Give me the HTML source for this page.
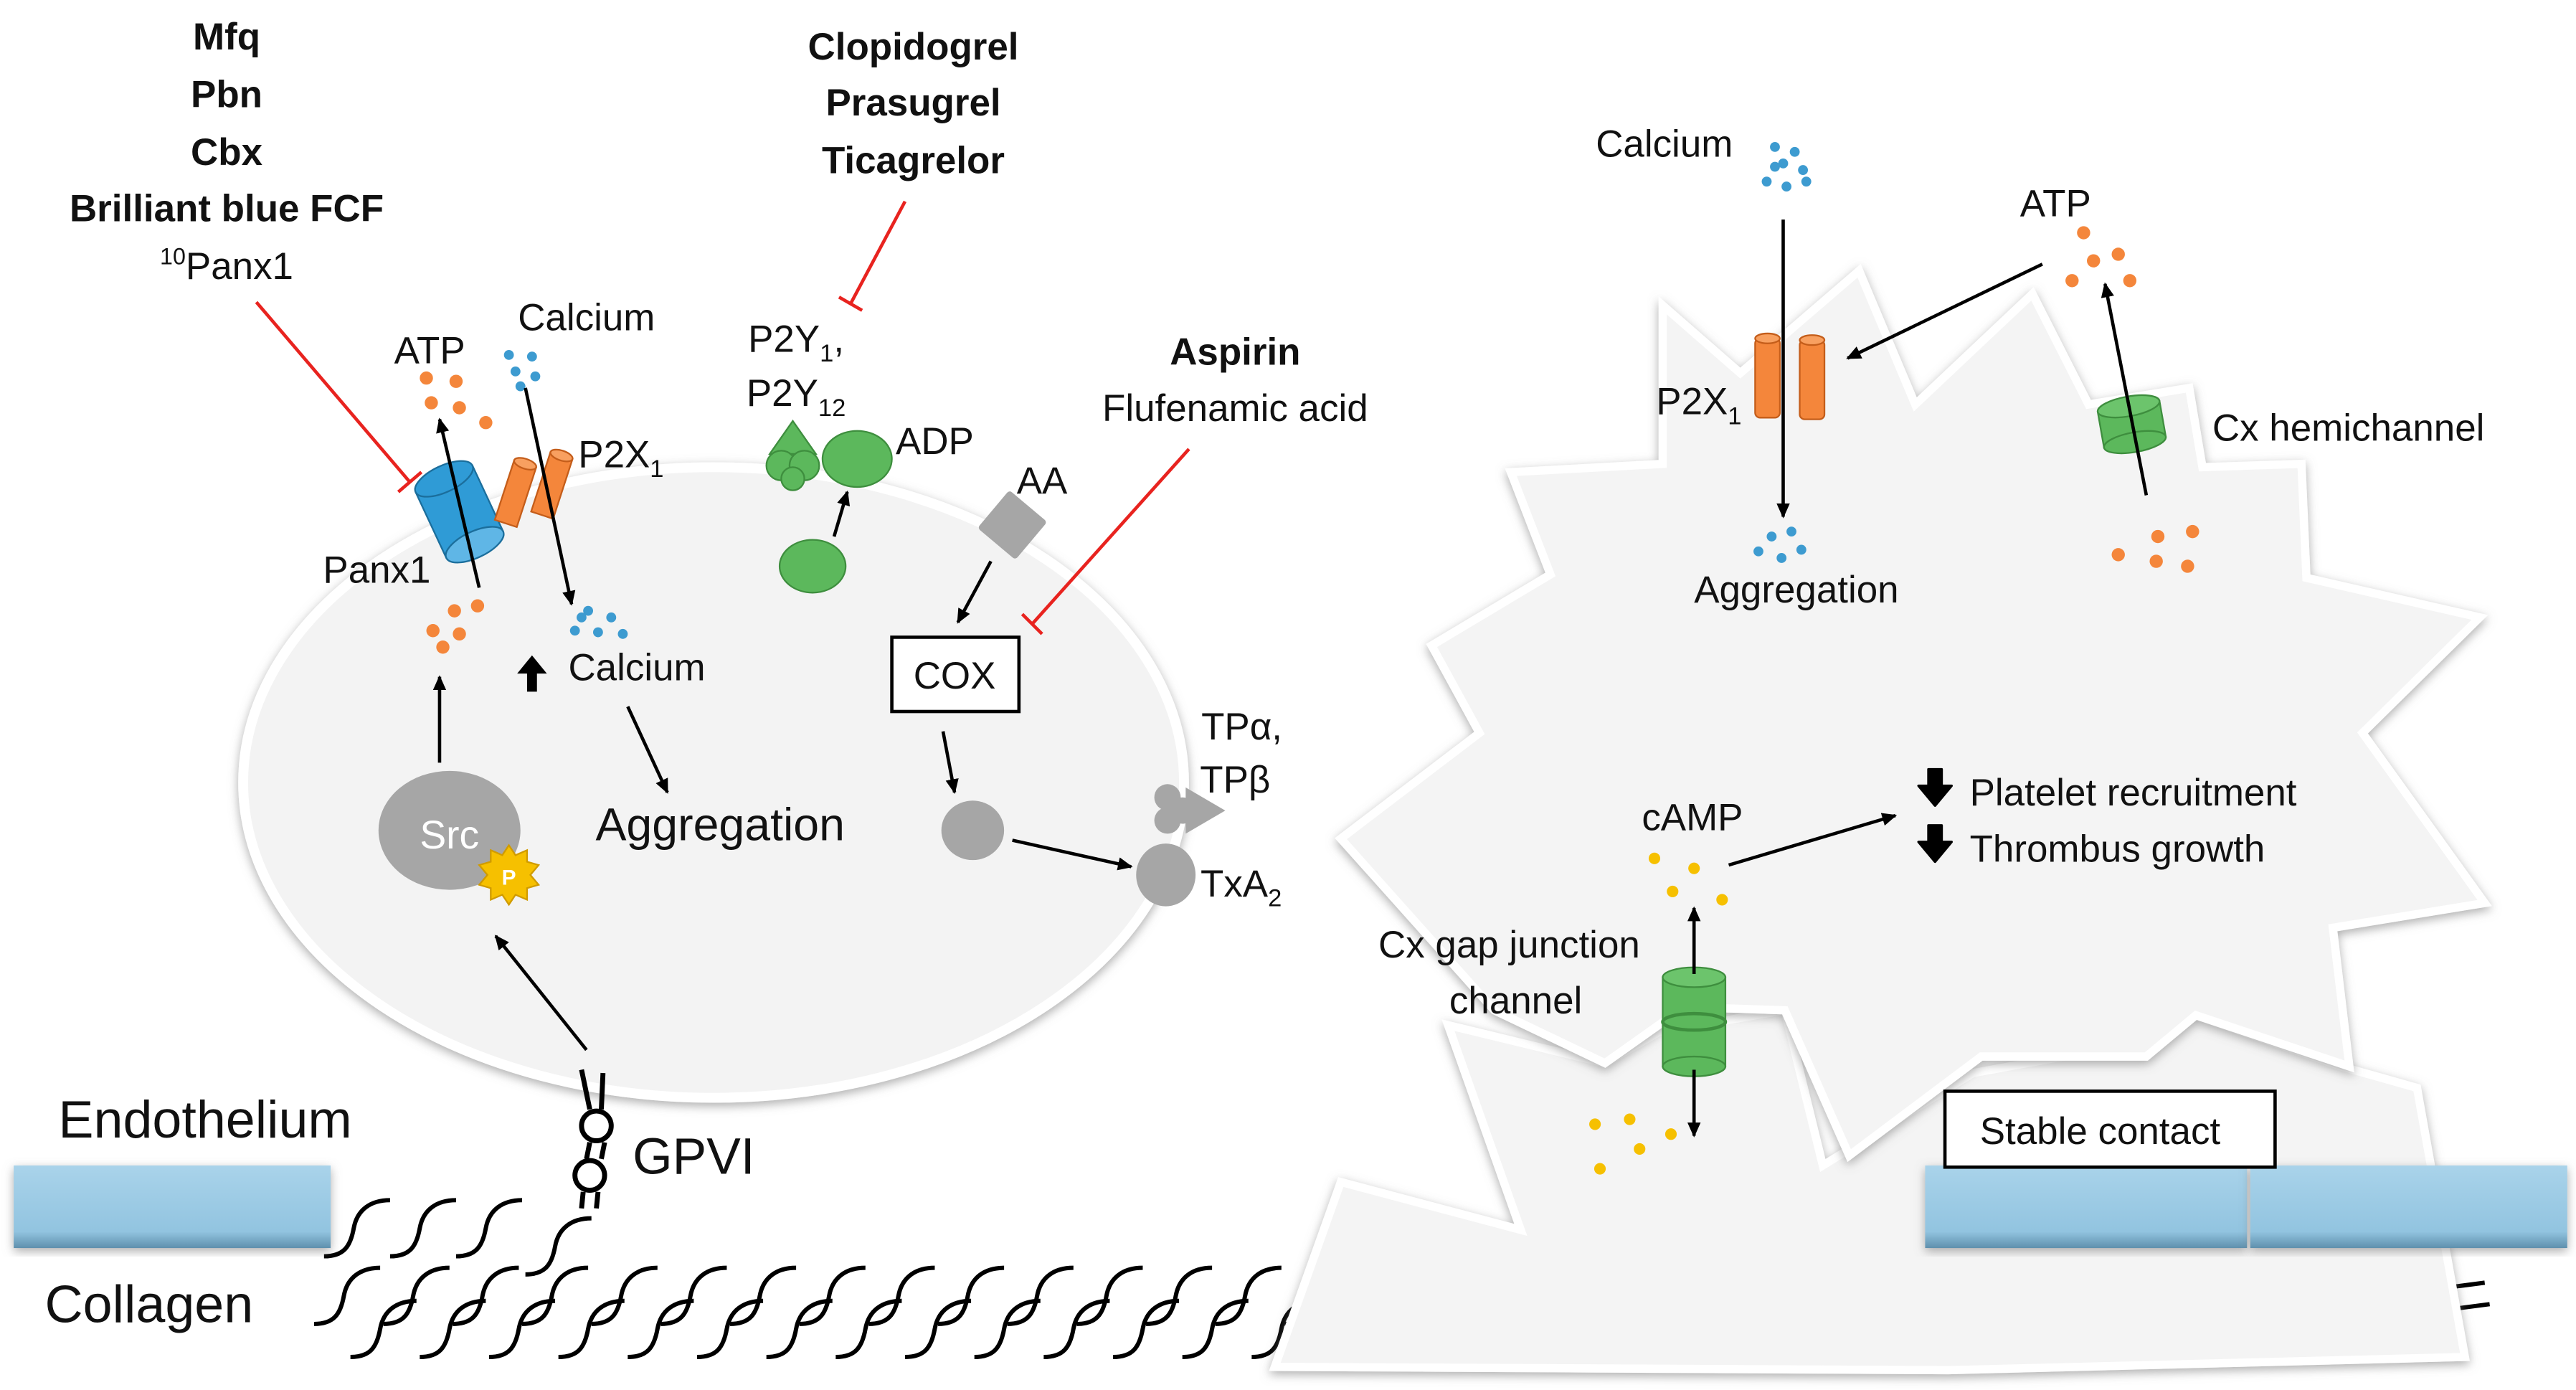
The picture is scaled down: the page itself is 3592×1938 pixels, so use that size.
<!DOCTYPE html>
<html><head><meta charset="utf-8"><style>
html,body{margin:0;padding:0;background:#fff;}
svg{display:block}
text{font-family:"Liberation Sans",sans-serif;fill:#111;}
</style></head><body>
<svg width="3592" height="1938" viewBox="0 0 1560 842" xmlns="http://www.w3.org/2000/svg">
<defs>
<filter id="sh" x="-10%" y="-10%" width="120%" height="120%"><feDropShadow dx="0" dy="2" stdDeviation="3" flood-color="#777" flood-opacity="0.6"/></filter>
<marker id="ah" markerWidth="10" markerHeight="10" refX="8" refY="5" orient="auto" markerUnits="userSpaceOnUse"><path d="M0,1 L9,5 L0,9 z" fill="#000"/></marker>
<linearGradient id="bar" x1="0" y1="0" x2="0" y2="1"><stop offset="0" stop-color="#a9d3ea"/><stop offset="0.8" stop-color="#92c4e0"/><stop offset="1" stop-color="#5f90ad"/></linearGradient>
<path id="sq" d="M0,34 C12,34 16,28 18,17 S28,0 40,0" fill="none" stroke="#000" stroke-width="2.6"/>
</defs>

<g>
<use href="#sq" x="196" y="727"/><use href="#sq" x="236" y="727"/><use href="#sq" x="276" y="727"/><use href="#sq" x="318" y="738"/>
<use href="#sq" x="190" y="768"/><use href="#sq" x="232" y="768"/><use href="#sq" x="274" y="768"/><use href="#sq" x="316" y="768"/><use href="#sq" x="358" y="768"/><use href="#sq" x="400" y="768"/><use href="#sq" x="442" y="768"/><use href="#sq" x="484" y="768"/><use href="#sq" x="526" y="768"/><use href="#sq" x="568" y="768"/><use href="#sq" x="610" y="768"/><use href="#sq" x="652" y="768"/><use href="#sq" x="694" y="768"/><use href="#sq" x="736" y="768"/><use href="#sq" x="778" y="768"/>
<use href="#sq" x="212" y="788"/><use href="#sq" x="254" y="788"/><use href="#sq" x="296" y="788"/><use href="#sq" x="338" y="788"/><use href="#sq" x="380" y="788"/><use href="#sq" x="422" y="788"/><use href="#sq" x="464" y="788"/><use href="#sq" x="506" y="788"/><use href="#sq" x="548" y="788"/><use href="#sq" x="590" y="788"/><use href="#sq" x="632" y="788"/><use href="#sq" x="674" y="788"/><use href="#sq" x="716" y="788"/><use href="#sq" x="758" y="788"/>
<path d="M1482,780 L1505,777 M1485,793 L1508,790" stroke="#000" stroke-width="2.6"/>
</g>

<polygon points="772,828 812,716 921,745 877,621 972,644 1005,625 1081,612 1104,706 1195,650 1250,640 1330,615 1418,646 1464,659 1493,822 1180,830" fill="#f4f4f4" stroke="#fff" stroke-width="5" filter="url(#sh)"/>
<polygon points="812,508 896,444 867,391 939,348 915,286 1007,281 1007,185 1054,226 1126,164 1160,245 1231,178 1265,245 1326,235 1334,283 1394,281 1397,350 1502,374 1431,444 1505,547 1413,562 1423,646 1330,615 1300,640 1200,640 1120,700 1081,612 1020,610 972,644 905,612" fill="#f4f4f4" stroke="#fff" stroke-width="5" filter="url(#sh)"/>

<ellipse cx="432" cy="474" rx="285" ry="191" fill="#f3f3f3" stroke="#fff" stroke-width="6" filter="url(#sh)"/>

<rect x="8" y="706" width="192" height="50" fill="url(#bar)" filter="url(#sh)"/>
<rect x="1166" y="706" width="195" height="50" fill="url(#bar)" filter="url(#sh)"/>
<rect x="1363" y="706" width="192" height="50" fill="url(#bar)" filter="url(#sh)"/>

<g font-weight="bold" font-size="23" text-anchor="middle">
<text x="137" y="30">Mfq</text><text x="137" y="65">Pbn</text><text x="137" y="100">Cbx</text><text x="137" y="134">Brilliant blue FCF</text>
<text x="553" y="36">Clopidogrel</text><text x="553" y="70">Prasugrel</text><text x="553" y="105">Ticagrelor</text>
<text x="748" y="221">Aspirin</text>
</g>
<text x="137" y="169" font-size="23" text-anchor="middle"><tspan font-size="14" dy="-9">10</tspan><tspan dy="9">Panx1</tspan></text>
<text x="748" y="255" font-size="23" text-anchor="middle">Flufenamic acid</text>

<g stroke="#e8231f" stroke-width="2">
<line x1="155" y1="183" x2="248" y2="292"/><line x1="241" y1="298" x2="255" y2="286"/>
<line x1="548" y1="122" x2="515" y2="184"/><line x1="508" y1="180" x2="522" y2="188"/>
<line x1="720" y1="272" x2="625" y2="378"/><line x1="619" y1="372" x2="631" y2="384"/>
</g>

<g font-size="23">
<text x="260" y="220" text-anchor="middle">ATP</text>
<text x="355" y="200" text-anchor="middle">Calcium</text>
<text x="350" y="283">P2X<tspan font-size="15" dy="6">1</tspan></text>
<text x="228" y="353" text-anchor="middle">Panx1</text>
<text x="344" y="412">Calcium</text>
<text x="482" y="213" text-anchor="middle">P2Y<tspan font-size="15" dy="6">1</tspan><tspan dy="-6">,</tspan></text>
<text x="482" y="246" text-anchor="middle">P2Y<tspan font-size="15" dy="6">12</tspan></text>
<text x="566" y="275" text-anchor="middle">ADP</text>
<text x="631" y="299" text-anchor="middle">AA</text>
<text x="752" y="448" text-anchor="middle">TPα,</text>
<text x="748" y="480" text-anchor="middle">TPβ</text>
<text x="727" y="543">TxA<tspan font-size="15" dy="6">2</tspan></text>
</g>
<text x="436" y="509" font-size="28" text-anchor="middle">Aggregation</text>
<text x="124" y="689" font-size="32" text-anchor="middle">Endothelium</text>
<text x="90" y="801" font-size="32" text-anchor="middle">Collagen</text>
<text x="420" y="711" font-size="31" text-anchor="middle">GPVI</text>

<g fill="#f4863b">
<circle cx="258" cy="229" r="4"/><circle cx="276" cy="231" r="4"/><circle cx="261" cy="244" r="4"/><circle cx="278" cy="247" r="4"/><circle cx="294" cy="256" r="4"/>
<circle cx="275" cy="370" r="4"/><circle cx="289" cy="367" r="4"/><circle cx="262" cy="382" r="4"/><circle cx="278" cy="384" r="4"/><circle cx="268" cy="392" r="4"/>
</g>
<g fill="#3d9bd0">
<circle cx="308" cy="215" r="3"/><circle cx="322" cy="216" r="3"/><circle cx="312" cy="225" r="3"/><circle cx="324" cy="228" r="3"/><circle cx="315" cy="234" r="3"/>
<circle cx="356" cy="370" r="3"/><circle cx="370" cy="374" r="3"/><circle cx="348" cy="382" r="3"/><circle cx="362" cy="383" r="3"/><circle cx="377" cy="384" r="3"/><circle cx="352" cy="374" r="3"/>
</g>

<g transform="translate(278,310) rotate(65)">
<rect x="-22" y="-19" width="44" height="38" fill="#2f9bd6" stroke="#1b6e9c" stroke-width="1"/>
<ellipse cx="-22" cy="0" rx="8" ry="19" fill="#2f9bd6" stroke="#1b6e9c" stroke-width="1"/>
<ellipse cx="22" cy="0" rx="8" ry="19" fill="#5fb6e6" stroke="#1b6e9c" stroke-width="1"/>
</g>
<g transform="translate(312,299) rotate(18)"><rect x="-7" y="-19" width="14" height="38" fill="#f4863b" stroke="#c45d1a"/><ellipse cx="0" cy="-19" rx="7" ry="3" fill="#f8a060" stroke="#c45d1a"/></g>
<g transform="translate(334,294) rotate(18)"><rect x="-7" y="-19" width="14" height="38" fill="#f4863b" stroke="#c45d1a"/><ellipse cx="0" cy="-19" rx="7" ry="3" fill="#f8a060" stroke="#c45d1a"/></g>

<g stroke="#000" stroke-width="2" marker-end="url(#ah)">
<line x1="290" y1="356" x2="266" y2="254"/>
<line x1="318" y1="235" x2="346" y2="366"/>
<line x1="380" y1="428" x2="404" y2="480"/>
<line x1="266" y1="462" x2="266" y2="410"/>
<line x1="355" y1="636" x2="300" y2="567"/>
<line x1="505" y1="325" x2="513" y2="298"/>
<line x1="600" y1="340" x2="580" y2="377"/>
<line x1="571" y1="443" x2="578" y2="480"/>
<line x1="613" y1="509" x2="685" y2="525"/>
</g>
<path d="M322,397 L313,408 L319,408 L319,419 L325,419 L325,408 L331,408 Z" fill="#000"/>

<ellipse cx="272" cy="503" rx="43" ry="36" fill="#a6a6a6"/>
<text x="272" y="514" font-size="24" text-anchor="middle" style="fill:#fff">Src</text>
<polygon points="308,512 312,518 319,515 319,522 326,524 321,530 326,536 319,538 319,545 312,542 308,548 304,542 297,545 297,538 290,536 295,530 290,524 297,522 297,515 304,518" fill="#f6c000" stroke="#d09b00"/>
<text x="308" y="536" font-size="13" font-weight="bold" text-anchor="middle" style="fill:#fff">P</text>

<g fill="#5cb85c" stroke="#3e8e3e" stroke-width="1">
<polygon points="480,255 494,275 466,275"/>
<circle cx="473" cy="282" r="9"/><circle cx="487" cy="282" r="9"/><circle cx="480" cy="290" r="7"/>
<ellipse cx="519" cy="278" rx="21" ry="17"/>
<ellipse cx="492" cy="343" rx="20" ry="16"/>
</g>
<rect x="598" y="303" width="30" height="30" fill="#a6a6a6" transform="rotate(40 613 318)" rx="2"/>
<rect x="540" y="386" width="77" height="45" fill="#fff" stroke="#000" stroke-width="2"/>
<text x="578" y="417" font-size="23" text-anchor="middle">COX</text>
<ellipse cx="589" cy="503" rx="19" ry="18" fill="#a6a6a6"/>
<ellipse cx="706" cy="530" rx="18" ry="19" fill="#a6a6a6"/>
<g fill="#a6a6a6"><circle cx="707" cy="483" r="8"/><circle cx="707" cy="497" r="8"/><circle cx="716" cy="491" r="8"/><polygon points="718,477 742,491 718,505"/></g>

<g stroke="#000" stroke-width="3" fill="none">
<line x1="352" y1="648" x2="357" y2="672"/><line x1="365" y1="650" x2="364" y2="672"/>
<circle cx="361" cy="682" r="9" fill="#fff"/>
<line x1="357" y1="692" x2="355" y2="702"/><line x1="366" y1="692" x2="364" y2="702"/>
<circle cx="357" cy="712" r="9" fill="#fff"/>
<line x1="353" y1="722" x2="352" y2="732"/><line x1="362" y1="722" x2="361" y2="732"/>
</g>

<g font-size="23">
<text x="1008" y="95" text-anchor="middle">Calcium</text>
<text x="1245" y="131" text-anchor="middle">ATP</text>
<text x="1003" y="251">P2X<tspan font-size="15" dy="6">1</tspan></text>
<text x="1340" y="267">Cx hemichannel</text>
<text x="1088" y="365" text-anchor="middle">Aggregation</text>
<text x="1025" y="503" text-anchor="middle">cAMP</text>
<text x="1193" y="488">Platelet recruitment</text>
<text x="1193" y="522">Thrombus growth</text>
<text x="914" y="580" text-anchor="middle">Cx gap junction</text>
<text x="918" y="614" text-anchor="middle">channel</text>
</g>
<g fill="#3d9bd0">
<circle cx="1075" cy="89" r="3"/><circle cx="1087" cy="92" r="3"/><circle cx="1080" cy="99" r="3"/><circle cx="1092" cy="103" r="3"/><circle cx="1070" cy="110" r="3"/><circle cx="1082" cy="113" r="3"/><circle cx="1094" cy="110" r="3"/><circle cx="1075" cy="101" r="3"/>
<circle cx="1073" cy="325" r="3"/><circle cx="1085" cy="322" r="3"/><circle cx="1065" cy="334" r="3"/><circle cx="1079" cy="338" r="3"/><circle cx="1091" cy="333" r="3"/>
</g>
<g fill="#f4863b">
<circle cx="1262" cy="141" r="4"/><circle cx="1283" cy="154" r="4"/><circle cx="1268" cy="158" r="4"/><circle cx="1255" cy="170" r="4"/><circle cx="1290" cy="170" r="4"/>
<circle cx="1307" cy="325" r="4"/><circle cx="1328" cy="322" r="4"/><circle cx="1283" cy="336" r="4"/><circle cx="1306" cy="340" r="4"/><circle cx="1325" cy="343" r="4"/>
</g>
<g fill="#f6c000">
<circle cx="1002" cy="520" r="3.5"/><circle cx="1026" cy="526" r="3.5"/><circle cx="1013" cy="540" r="3.5"/><circle cx="1043" cy="545" r="3.5"/>
<circle cx="966" cy="681" r="3.5"/><circle cx="987" cy="678" r="3.5"/><circle cx="1012" cy="687" r="3.5"/><circle cx="993" cy="696" r="3.5"/><circle cx="969" cy="708" r="3.5"/>
</g>
<g fill="#f4863b" stroke="#c45d1a">
<rect x="1063" y="205" width="15" height="48" rx="3"/><ellipse cx="1070.5" cy="205" rx="7.5" ry="3" fill="#f8a060"/>
<rect x="1090" y="206" width="15" height="48" rx="3"/><ellipse cx="1097.5" cy="206" rx="7.5" ry="3" fill="#f8a060"/>
</g>
<g transform="translate(1291,256) rotate(-10)" fill="#5cb85c" stroke="#3e8e3e">
<rect x="-19" y="-10" width="38" height="22"/><ellipse cx="0" cy="12" rx="19" ry="6"/><ellipse cx="0" cy="-10" rx="19" ry="6" fill="#6cc46c"/>
</g>
<g fill="#5cb85c" stroke="#3e8e3e">
<rect x="1007" y="592" width="38" height="54"/><ellipse cx="1026" cy="646" rx="19" ry="6"/><ellipse cx="1026" cy="619" rx="19" ry="5" fill="none" stroke="#3e8e3e" stroke-width="2"/><ellipse cx="1026" cy="592" rx="19" ry="6" fill="#6cc46c"/>
</g>
<g stroke="#000" stroke-width="2">
<line x1="1080" y1="133" x2="1080" y2="313" marker-end="url(#ah)"/>
<line x1="1237" y1="160" x2="1119" y2="217" marker-end="url(#ah)"/>
<line x1="1300" y1="300" x2="1275" y2="172" marker-end="url(#ah)"/>
<line x1="1047" y1="524" x2="1148" y2="494" marker-end="url(#ah)"/>
<line x1="1026" y1="590" x2="1026" y2="550" marker-end="url(#ah)"/>
<line x1="1026" y1="648" x2="1026" y2="688" marker-end="url(#ah)"/>
</g>
<path d="M1168,466 L1176,466 L1176,476 L1182,476 L1172,488 L1162,476 L1168,476 Z" fill="#000" stroke="#000" stroke-width="1.5" stroke-linejoin="round"/>
<path d="M1168,500 L1176,500 L1176,510 L1182,510 L1172,522 L1162,510 L1168,510 Z" fill="#000" stroke="#000" stroke-width="1.5" stroke-linejoin="round"/>
<rect x="1178" y="661" width="200" height="46" fill="#fff" stroke="#000" stroke-width="2"/>
<text x="1272" y="693" font-size="23" text-anchor="middle">Stable contact</text>
</svg>
</body></html>
